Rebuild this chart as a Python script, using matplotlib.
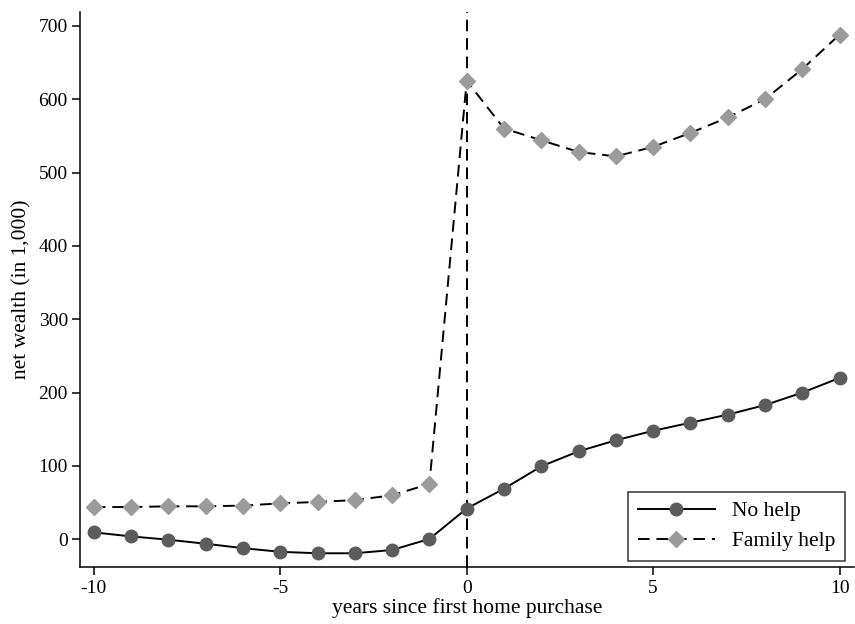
import numpy as np
import matplotlib
matplotlib.use('Agg')
import matplotlib.pyplot as plt

plt.rcParams['font.family'] = ['Liberation Serif', 'DejaVu Serif']
plt.rcParams['axes.unicode_minus'] = False

# ── Data ──────────────────────────────────────────────────────────────────────

years = list(range(-10, 11))
no_help = [9.5, 4, -0.5, -6, -12, -17, -19, -19, -14.5, 0.5, 42,
           69, 99.5, 120, 135, 148, 159, 170, 183, 200, 220]
family_help = [44, 44, 45, 45, 46, 49, 51, 53.5, 60, 75.5, 625,
               560, 544, 528, 522, 535, 554, 575, 600, 641, 688]

x_ticks = [-10, -5, 0, 5, 10]
y_ticks = [0, 100, 200, 300, 400, 500, 600, 700]

# ── Plot ──────────────────────────────────────────────────────────────────────

fig = plt.figure(figsize=(8.55, 6.24), dpi=100)
ax = fig.add_axes([0.094, 0.091, 0.905, 0.89])

ax.axvline(0, color='black', lw=1.4, ls=(0, (6, 3.5)), zorder=1)

ax.plot(years, no_help, color='black', lw=1.4, marker='o', ms=9,
        mfc='#5c5c5c', mec='#5c5c5c', label='No help', zorder=3)
ax.plot(years, family_help, color='black', lw=1.4, ls=(0, (6, 3.5)),
        marker='D', ms=7.8, mfc='#9b9b9b', mec='#9b9b9b',
        label='Family help', zorder=3)

ax.set_xlim(-10.36, 10.39)
ax.set_ylim(-38, 719)
ax.set_xticks(x_ticks)
ax.set_yticks(y_ticks)
ax.tick_params(labelsize=14, length=6, width=1.1, color='black', pad=3)
ax.spines['top'].set_visible(False)
ax.spines['right'].set_visible(False)
ax.spines['left'].set_linewidth(1.1)
ax.spines['bottom'].set_linewidth(1.1)

ax.set_xlabel('years since first home purchase', fontsize=15.5, labelpad=1)
ax.set_ylabel('net wealth (in 1,000)', fontsize=15.5, labelpad=5)

leg = ax.legend(loc='lower right', bbox_to_anchor=(0.997, 0.0), fontsize=15.5,
                frameon=True, fancybox=False, edgecolor='black',
                handlelength=3.6, handletextpad=0.8, borderpad=0.45,
                labelspacing=0.45, borderaxespad=0.3)
leg.get_frame().set_linewidth(1.1)

fig.savefig('out.png', dpi=100)
